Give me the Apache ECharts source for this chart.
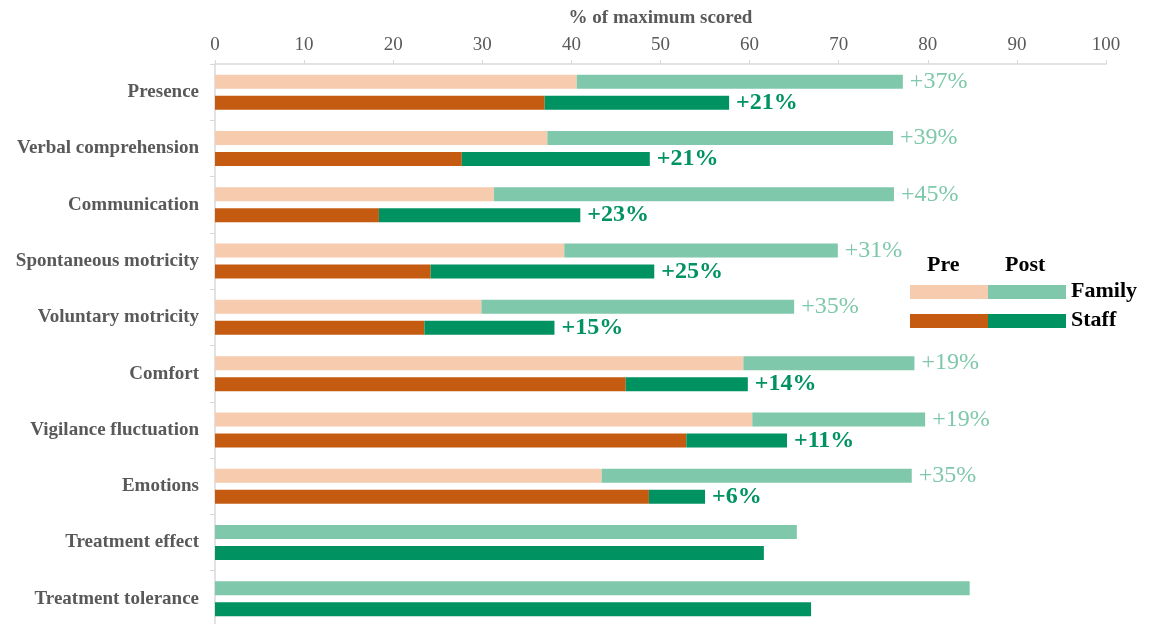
<!DOCTYPE html>
<html>
<head>
<meta charset="utf-8">
<script src="https://cdn.jsdelivr.net/npm/echarts@6/dist/echarts.min.js"></script>
<style>
html,body{margin:0;padding:0;background:#fff;}
#chart{width:1161px;height:624px;}
</style>
</head>
<body>
<div id="chart"></div>
<script>
const categories = ['Presence','Verbal comprehension','Communication','Spontaneous motricity','Voluntary motricity','Comfort','Vigilance fluctuation','Emotions','Treatment effect','Treatment tolerance'];
const familyPre  = [40.6, 37.3, 31.3, 39.2, 29.9, 59.3, 60.3, 43.4, 0, 0];
const familyPost = [77.2, 76.1, 76.2, 69.9, 65.0, 78.5, 79.7, 78.2, 65.3, 84.7];
const staffPre   = [37.0, 27.7, 18.4, 24.2, 23.5, 46.1, 52.9, 48.7, 0, 0];
const staffPost  = [57.7, 48.8, 41.0, 49.3, 38.1, 59.8, 64.2, 55.0, 61.6, 66.9];
const familyGain = ['+37%','+39%','+45%','+31%','+35%','+19%','+19%','+35%','',''];
const staffGain  = ['+21%','+21%','+23%','+25%','+15%','+14%','+11%','+6%','',''];
const xTicks = [0,10,20,30,40,50,60,70,80,90,100];

const C = {famPre:'#f6cbae', famPost:'#7fc8ab', stPre:'#c55a11', stPost:'#009260'};
const FONT = '"Liberation Serif","Times New Roman",serif';

const chart = echarts.init(document.getElementById('chart'));
const famDelta = familyPost.map((v,i)=>+(v-familyPre[i]).toFixed(2));
const stDelta = staffPost.map((v,i)=>+(v-staffPre[i]).toFixed(2));

chart.setOption({
  animation:false,
  grid:{left:215,right:55,top:64,bottom:-3,containLabel:false,outerBoundsMode:'none'},
  xAxis:{
    type:'value', position:'top', min:xTicks[0], max:xTicks[xTicks.length-1], interval:10,
    name:'% of maximum scored', nameLocation:'middle', nameGap:36,
    nameTextStyle:{fontFamily:FONT,fontSize:19,fontWeight:'bold',color:'#595959'},
    axisLine:{show:true,lineStyle:{color:'#d9d9d9',width:1.5}},
    axisTick:{show:true,length:4,lineStyle:{color:'#d9d9d9'}},
    axisLabel:{fontFamily:FONT,fontSize:19,color:'#595959',margin:9},
    splitLine:{show:false}
  },
  yAxis:{
    type:'category', data:categories, inverse:true,
    axisLine:{show:true,lineStyle:{color:'#d9d9d9',width:1.5}},
    axisTick:{show:true,length:5,lineStyle:{color:'#d9d9d9'}},
    axisLabel:{fontFamily:FONT,fontSize:19,fontWeight:'bold',color:'#595959',margin:16}
  },
  series:[
    {name:'Family Pre',type:'bar',stack:'family',barWidth:14,barGap:'50%',data:familyPre,itemStyle:{color:C.famPre}},
    {name:'Family Post',type:'bar',stack:'family',barWidth:14,barGap:'50%',data:famDelta,itemStyle:{color:C.famPost},
      label:{show:true,position:'right',distance:7,fontFamily:FONT,fontSize:24,color:C.famPost,
        formatter:p=>familyGain[p.dataIndex]}},
    {name:'Staff Pre',type:'bar',stack:'staff',barWidth:14,barGap:'50%',data:staffPre,itemStyle:{color:C.stPre}},
    {name:'Staff Post',type:'bar',stack:'staff',barWidth:14,barGap:'50%',data:stDelta,itemStyle:{color:C.stPost},
      label:{show:true,position:'right',distance:7,fontFamily:FONT,fontSize:24,fontWeight:'bold',color:C.stPost,
        formatter:p=>staffGain[p.dataIndex]}}
  ],
  graphic:[
    {type:'text',left:927,top:254,style:{text:'Pre',fontFamily:FONT,fontSize:22,fontWeight:'bold',fill:'#000'}},
    {type:'text',left:1005,top:254,style:{text:'Post',fontFamily:FONT,fontSize:22,fontWeight:'bold',fill:'#000'}},
    {type:'rect',shape:{x:910,y:285,width:78,height:14},style:{fill:C.famPre}},
    {type:'rect',shape:{x:988,y:285,width:78,height:14},style:{fill:C.famPost}},
    {type:'rect',shape:{x:910,y:314,width:78,height:14},style:{fill:C.stPre}},
    {type:'rect',shape:{x:988,y:314,width:78,height:14},style:{fill:C.stPost}},
    {type:'text',left:1071,top:280,style:{text:'Family',fontFamily:FONT,fontSize:22,fontWeight:'bold',fill:'#000'}},
    {type:'text',left:1071,top:309,style:{text:'Staff',fontFamily:FONT,fontSize:22,fontWeight:'bold',fill:'#000'}}
  ]
});
</script>
</body>
</html>
